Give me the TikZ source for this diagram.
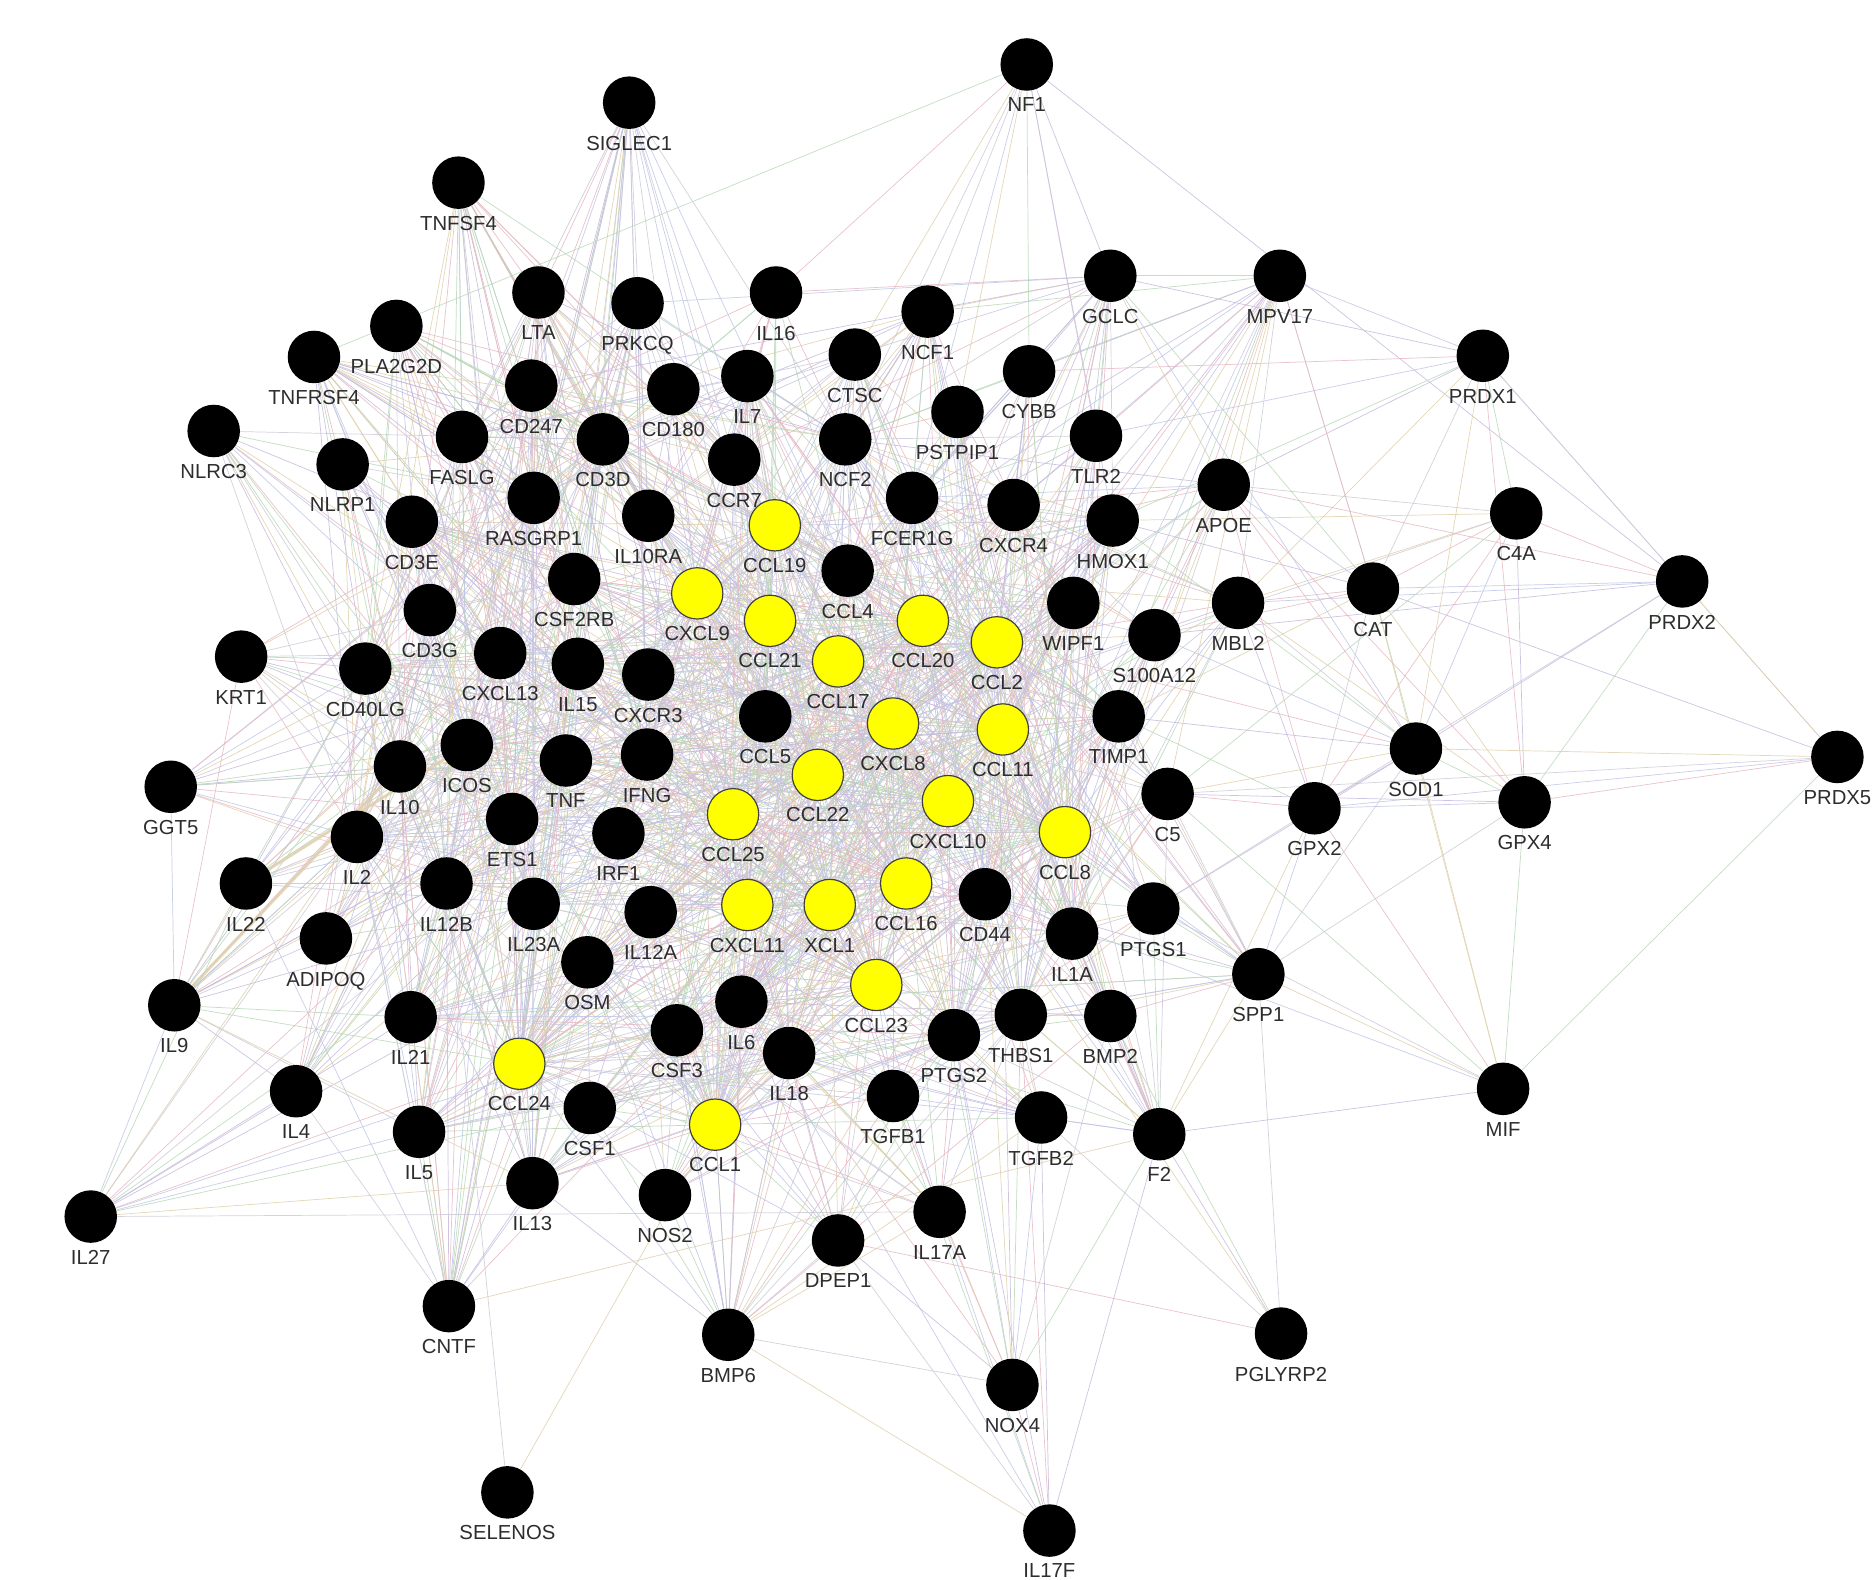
\documentclass[tikz,border=0pt]{standalone}
\usepackage{fontspec}
\setmainfont{Liberation Sans}
\usetikzlibrary{backgrounds}
\definecolor{ec0}{RGB}{198,186,220}
\definecolor{ec1}{RGB}{184,216,184}
\definecolor{ec2}{RGB}{204,202,216}
\definecolor{ec3}{RGB}{224,208,172}
\definecolor{ec4}{RGB}{230,184,196}
\definecolor{ec5}{RGB}{192,198,230}
\definecolor{labelgrey}{RGB}{45,45,45}
\definecolor{hubyellow}{RGB}{255,255,0}

\begin{document}
\begin{tikzpicture}[x=0.5pt,y=-0.5pt,
  gene/.style={circle,fill=black,minimum size=22pt,inner sep=0pt},
  chemo/.style={gene,fill=hubyellow,draw=black!75,line width=0.5pt,minimum size=21.5pt},
  every label/.style={font=\fontsize{8.5}{10}\selectfont,text=labelgrey,inner sep=0pt},
  label distance=2.6pt,
  link/.style={line width=0.3pt,draw opacity=0.85},
  thicklink/.style={line width=1.3pt,ec3,draw opacity=0.8}]
\useasboundingbox (0,0) rectangle (1568,1323);
% outer ring, top
\node[gene,label=below:NF1] (NF1) at (860,54) {};
\node[gene,label=below:SIGLEC1] (SIGLEC1) at (527,86) {};
\node[gene,label=below:TNFSF4] (TNFSF4) at (384,153) {};
\node[gene,label=below:GCLC] (GCLC) at (930,231) {};
\node[gene,label=below:MPV17] (MPV17) at (1072,231) {};
\node[gene,label=below:PRDX1] (PRDX1) at (1242,298) {};
\node[gene,label=below:LTA] (LTA) at (451,245) {};
\node[gene,label=below:PRKCQ] (PRKCQ) at (534,254) {};
\node[gene,label=below:IL16] (IL16) at (650,245) {};
\node[gene,label=below:NCF1] (NCF1) at (777,261) {};
\node[gene,label=below:PLA2G2D] (PLA2G2D) at (332,273) {};
\node[gene,label=below:TNFRSF4] (TNFRSF4) at (263,299) {};
\node[gene,label=below:CTSC] (CTSC) at (716,297) {};
\node[gene,label=below:CYBB] (CYBB) at (862,311) {};
\node[gene,label=below:CD247] (CD247) at (445,323) {};
\node[gene,label=below:CD180] (CD180) at (564,326) {};
\node[gene,label=below:IL7] (IL7) at (626,315) {};
\node[gene,label=below:PSTPIP1] (PSTPIP1) at (802,345) {};
\node[gene,label=below:NLRC3] (NLRC3) at (179,361) {};
\node[gene,label=below:FASLG] (FASLG) at (387,366) {};
\node[gene,label=below:CD3D] (CD3D) at (505,368) {};
\node[gene,label=below:NCF2] (NCF2) at (708,368) {};
\node[gene,label=below:TLR2] (TLR2) at (918,365) {};
\node[gene,label=below:NLRP1] (NLRP1) at (287,389) {};
\node[gene,label=below:CCR7] (CCR7) at (615,385) {};
\node[gene,label=below:RASGRP1] (RASGRP1) at (447,417) {};
\node[gene,label=below:FCER1G] (FCER1G) at (764,417) {};
\node[gene,label=below:CXCR4] (CXCR4) at (849,423) {};
\node[gene,label=below:HMOX1] (HMOX1) at (932,436) {};
\node[gene,label=below:APOE] (APOE) at (1025,406) {};
\node[gene,label=below:C4A] (C4A) at (1270,430) {};
\node[gene,label=below:CD3E] (CD3E) at (345,437) {};
\node[gene,label=below:IL10RA] (IL10RA) at (543,432) {};
\node[chemo,label=below:CCL19] (CCL19) at (649,440) {};
\node[gene,label=below:CCL4] (CCL4) at (710,478) {};
\node[gene,label=below:CSF2RB] (CSF2RB) at (481,485) {};
\node[chemo,label=below:CXCL9] (CXCL9) at (584,497) {};
\node[chemo,label=below:CCL21] (CCL21) at (645,520) {};
\node[chemo,label=below:CCL20] (CCL20) at (773,520) {};
\node[chemo,label=below:CCL2] (CCL2) at (835,538) {};
\node[gene,label=below:WIPF1] (WIPF1) at (899,505) {};
\node[gene,label=below:S100A12] (S100A12) at (967,532) {};
\node[gene,label=below:MBL2] (MBL2) at (1037,505) {};
\node[gene,label=below:CAT] (CAT) at (1150,493) {};
\node[gene,label=below:PRDX2] (PRDX2) at (1409,487) {};
% middle band
\node[gene,label=below:CD3G] (CD3G) at (360,511) {};
\node[gene,label=below:KRT1] (KRT1) at (202,550) {};
\node[gene,label=below:CD40LG] (CD40LG) at (306,560) {};
\node[gene,label=below:CXCL13] (CXCL13) at (419,547) {};
\node[gene,label=below:IL15] (IL15) at (484,556) {};
\node[gene,label=below:CXCR3] (CXCR3) at (543,565) {};
\node[chemo,label=below:CCL17] (CCL17) at (702,554) {};
\node[chemo,label=below:CXCL8] (CXCL8) at (748,606) {};
\node[chemo,label=below:CCL11] (CCL11) at (840,611) {};
\node[gene,label=below:TIMP1] (TIMP1) at (937,600) {};
\node[gene,label=below:CCL5] (CCL5) at (641,600) {};
\node[gene,label=below:SOD1] (SOD1) at (1186,627) {};
\node[gene,label=below:PRDX5] (PRDX5) at (1539,634) {};
\node[gene,label=below:GGT5] (GGT5) at (143,659) {};
\node[gene,label=below:IL10] (IL10) at (335,642) {};
\node[gene,label=below:ICOS] (ICOS) at (391,624) {};
\node[gene,label=below:TNF] (TNF) at (474,637) {};
\node[gene,label=below:IFNG] (IFNG) at (542,632) {};
\node[chemo,label=below:CCL22] (CCL22) at (685,649) {};
\node[chemo,label=below:CXCL10] (CXCL10) at (794,671) {};
\node[gene,label=below:C5] (C5) at (978,665) {};
\node[gene,label=below:GPX2] (GPX2) at (1101,677) {};
\node[gene,label=below:GPX4] (GPX4) at (1277,672) {};
\node[gene,label=below:ETS1] (ETS1) at (429,686) {};
\node[gene,label=below:IRF1] (IRF1) at (518,698) {};
\node[chemo,label=below:CCL25] (CCL25) at (614,682) {};
\node[chemo,label=below:CCL8] (CCL8) at (892,697) {};
\node[gene,label=below:IL2] (IL2) at (299,701) {};
\node[gene,label=below:IL22] (IL22) at (206,740) {};
\node[gene,label=below:IL12B] (IL12B) at (374,740) {};
\node[gene,label=below:IL23A] (IL23A) at (447,757) {};
\node[chemo,label=below:CXCL11] (CXCL11) at (626,758) {};
\node[chemo,label=below:XCL1] (XCL1) at (695,758) {};
\node[chemo,label=below:CCL16] (CCL16) at (759,740) {};
\node[gene,label=below:CD44] (CD44) at (825,749) {};
\node[gene,label=below:IL1A] (IL1A) at (898,782) {};
\node[gene,label=below:PTGS1] (PTGS1) at (966,761) {};
\node[gene,label=below:IL12A] (IL12A) at (545,764) {};
% lower band
\node[gene,label=below:ADIPOQ] (ADIPOQ) at (273,786) {};
\node[gene,label=below:OSM] (OSM) at (492,806) {};
\node[gene,label=below:SPP1] (SPP1) at (1054,816) {};
\node[chemo,label=below:CCL23] (CCL23) at (734,825) {};
\node[gene,label=below:IL6] (IL6) at (621,839) {};
\node[gene,label=below:IL9] (IL9) at (146,842) {};
\node[gene,label=below:IL21] (IL21) at (344,852) {};
\node[gene,label=below:CSF3] (CSF3) at (567,863) {};
\node[gene,label=below:THBS1] (THBS1) at (855,850) {};
\node[gene,label=below:BMP2] (BMP2) at (930,851) {};
\node[gene,label=below:PTGS2] (PTGS2) at (799,867) {};
\node[gene,label=below:IL18] (IL18) at (661,882) {};
\node[chemo,label=below:CCL24] (CCL24) at (435,891) {};
\node[gene,label=below:IL4] (IL4) at (248,914) {};
\node[gene,label=below:CSF1] (CSF1) at (494,928) {};
\node[gene,label=below:TGFB1] (TGFB1) at (748,918) {};
\node[gene,label=below:MIF] (MIF) at (1259,912) {};
\node[gene,label=below:IL5] (IL5) at (351,948) {};
\node[chemo,label=below:CCL1] (CCL1) at (599,942) {};
\node[gene,label=below:TGFB2] (TGFB2) at (872,936) {};
\node[gene,label=below:F2] (F2) at (971,950) {};
\node[gene,label=below:IL13] (IL13) at (446,991) {};
\node[gene,label=below:NOS2] (NOS2) at (557,1001) {};
\node[gene,label=below:IL27] (IL27) at (76,1019) {};
\node[gene,label=below:IL17A] (IL17A) at (787,1015) {};
\node[gene,label=below:DPEP1] (DPEP1) at (702,1039) {};
\node[gene,label=below:CNTF] (CNTF) at (376,1094) {};
\node[gene,label=below:BMP6] (BMP6) at (610,1118) {};
\node[gene,label=below:PGLYRP2] (PGLYRP2) at (1073,1117) {};
\node[gene,label=below:NOX4] (NOX4) at (848,1160) {};
\node[gene,label=below:SELENOS] (SELENOS) at (425,1250) {};
\node[gene,label=below:IL17F] (IL17F) at (879,1282) {};

\begin{pgfonlayer}{background}
% chemokines, every pair
\foreach \a [count=\i] in {CCL19,CXCL9,CCL21,CCL20,CCL2,CCL17,CXCL8,CCL11,CCL22,CXCL10,CCL25,CCL8,CXCL11,XCL1,CCL16,CCL23,CCL24,CCL1}{
  \foreach \b [count=\j] in {CCL19,CXCL9,CCL21,CCL20,CCL2,CCL17,CXCL8,CCL11,CCL22,CXCL10,CCL25,CCL8,CXCL11,XCL1,CCL16,CCL23,CCL24,CCL1}{
    \ifnum\j>\i
      \pgfmathtruncatemacro\c{mod(\i*5+\j*7,6)}
      \draw[link,ec\c] (\a) -- (\b);
    \fi
  }
}
% chemokines to the inner ring
\foreach \a [count=\i] in {CCL19,CXCL9,CCL21,CCL20,CCL2,CCL17,CXCL8,CCL11,CCL22,CXCL10,CCL25,CCL8,CXCL11,XCL1,CCL16,CCL23,CCL24,CCL1}{
  \foreach \b [count=\j] in {CCR7,CCL4,CCL5,CXCR3,IFNG,TNF,IL10RA,CSF2RB,IL15,CXCL13,ICOS,IL10,ETS1,IRF1,IL12B,IL23A,IL12A,OSM,IL6,CSF3,IL18,CD44,CXCR4,FCER1G,NCF2,IL7,CD3D,IL2,IL1A,PTGS2,THBS1,TIMP1,WIPF1,HMOX1,CD40LG,CD3E}{
    \pgfmathtruncatemacro\c{mod(\i*3+\j*5,6)}
    \draw[link,ec\c] (\a) -- (\b);
  }
}
% T cell side
\foreach \a [count=\i] in {TNFRSF4,PLA2G2D,NLRC3,NLRP1,KRT1,GGT5,IL22,IL9,ADIPOQ,IL21,IL4,IL5,IL13,CCL24,CNTF,CD3E,CD3G,FASLG,CD247,LTA,PRKCQ,TNFSF4,SIGLEC1}{
  \foreach \b [count=\j] in {CD3D,RASGRP1,CSF2RB,CXCL13,ICOS,IL10,IL2,ETS1,IL12B,TNF,IFNG,IL15,CD40LG,IL23A}{
    \pgfmathtruncatemacro\c{mod(\i*7+\j*5,6)}
    \draw[link,ec\c] (\a) -- (\b);
  }
}
% top side
\foreach \a [count=\i] in {SIGLEC1,TNFSF4,LTA,PRKCQ,IL16,NCF1,CTSC,CD247,CD180,IL7,PLA2G2D,TNFRSF4}{
  \foreach \b [count=\j] in {CCR7,CD3D,IL10RA,CCL19,CXCL9,CCL21,FASLG,RASGRP1,NCF2,CCL4,IFNG,CCL5}{
    \pgfmathtruncatemacro\c{mod(\i*5+\j*3,6)}
    \draw[link,ec\c] (\a) -- (\b);
  }
}
% myeloid side
\foreach \a [count=\i] in {GCLC,MPV17,APOE,MBL2,S100A12,HMOX1,TLR2,CYBB,NCF1,CTSC,PSTPIP1,WIPF1,TIMP1,C5,PTGS1,SPP1,F2,BMP2}{
  \foreach \b [count=\j] in {CXCR4,FCER1G,NCF2,CD44,IL1A,THBS1,PTGS2,CCL2,CCL8,CXCL8,CCL11,IL6,CCL4}{
    \pgfmathtruncatemacro\c{mod(\i*5+\j*7,6)}
    \draw[link,ec\c] (\a) -- (\b);
  }
}
% bottom side
\foreach \a [count=\i] in {CSF1,NOS2,DPEP1,IL17A,TGFB2,TGFB1,BMP6,IL13,IL5,IL21}{
  \foreach \b [count=\j] in {IL6,CSF3,IL18,CCL1,CCL23,XCL1,CXCL11,OSM,IL12A,PTGS2,THBS1,CD44,CXCL8,CCL24}{
    \pgfmathtruncatemacro\c{mod(\i*3+\j*7,6)}
    \draw[link,ec\c] (\a) -- (\b);
  }
}
% outlying genes
\foreach \a/\list [count=\i] in {
  NF1/{GCLC,CYBB,NCF1,CTSC,TLR2,HMOX1,PRDX2,TNFRSF4,NCF2,PSTPIP1,IL16,FCER1G},
  PRDX1/{MPV17,APOE,C4A,CAT,SOD1,GPX4,PRDX2,GCLC,HMOX1,PRDX5,MBL2,CYBB,TLR2},
  PRDX2/{C4A,CAT,SOD1,GPX4,GPX2,PRDX5,APOE,MBL2,S100A12},
  PRDX5/{SOD1,GPX4,GPX2,CAT,MIF,C5},
  C4A/{APOE,MBL2,CAT,SOD1,GPX4,C5,S100A12,HMOX1,GPX2},
  CAT/{SOD1,GPX2,GPX4,MBL2,APOE,HMOX1,GCLC,MPV17,TIMP1,S100A12},
  SOD1/{GPX2,GPX4,MBL2,C5,APOE,S100A12,TIMP1,HMOX1,SPP1,MIF,CCL2,GCLC,PTGS1},
  GPX4/{GPX2,C5,MIF,SPP1,MBL2,APOE},
  GPX2/{C5,SPP1,MBL2,TIMP1,PTGS1,F2,APOE},
  MIF/{SPP1,GPX2,CD44,F2,C5,PTGS1,CAT},
  MPV17/{GCLC,APOE,CAT,HMOX1,CYBB,NCF1,MBL2,C5,TLR2},
  SPP1/{PTGS1,C5,F2,BMP2,THBS1,TIMP1,IL6,PGLYRP2},
  PGLYRP2/{F2,BMP2,TGFB2,CD44,DPEP1},
  F2/{BMP2,TGFB2,PTGS1,C5,THBS1,IL1A,TGFB1,IL17F,NOX4,TIMP1},
  IL17F/{NOX4,IL17A,TGFB2,TGFB1,DPEP1,BMP6,THBS1,IL6,PTGS2},
  NOX4/{IL17A,TGFB1,TGFB2,DPEP1,THBS1,BMP2,CD44,IL6,PTGS2,CCL2,CXCL8,BMP6},
  SELENOS/{IL12B,CCL1},
  BMP6/{NOS2,DPEP1,IL17A,TGFB1,IL6,CCL1,CSF1,IL18,TGFB2,BMP2,CSF3,IL13},
  CNTF/{IL13,IL5,IL4,IL21,IL6,CSF1,CCL24,OSM,IL2,F2,IL10,IL22},
  IL27/{IL9,IL4,IL22,IL2,IL10,IL12B,IL5,IL21,IL23A,IFNG,IL13,CCL24,IL6,IL12A,CSF1,IL17A},
  IL9/{IL22,IL2,IL4,IL21,IL5,IL13,KRT1,GGT5,ETS1,CCL24},
  GCLC/{NCF1,IL16,CTSC,CYBB,TLR2,HMOX1,APOE,CCR7,PRKCQ,CD247}}{
  \foreach \b [count=\j] in \list{
    \pgfmathtruncatemacro\c{mod(\i*5+\j*7,6)}
    \draw[link,ec\c] (\a) -- (\b);
  }
}
% heavier links
\draw[thicklink] (IL9) -- (IL10);
\draw[thicklink] (IL22) -- (ICOS);
\end{pgfonlayer}
\end{tikzpicture}
\end{document}
